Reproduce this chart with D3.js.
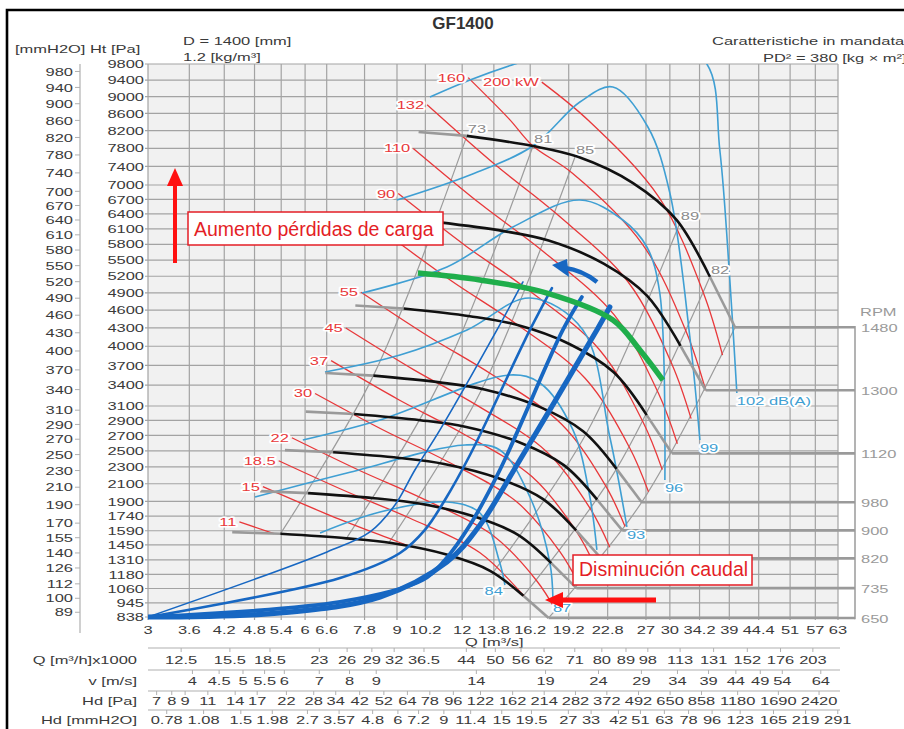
<!DOCTYPE html>
<html><head><meta charset="utf-8">
<script src="https://cdn.jsdelivr.net/npm/d3@7"></script>
<style>body{margin:0;background:#fff}svg{display:block}</style>
</head><body><svg id="c" width="904" height="729"></svg>
<script>
// ---- axis tick values ----
const qTicks = [3,3.6,4.2,4.8,5.4,6,6.6,7.8,9,10.2,12,13.8,16.2,19.2,22.8,27,30,34.2,39,44.4,51,57,63];
const paTicks = [838,945,1060,1180,1310,1450,1590,1740,1900,2100,2300,2500,2700,2900,3100,3400,3700,4000,4300,4600,4900,5200,5500,5800,6100,6400,6700,7000,7400,7800,8200,8600,9000,9400,9800];
const mmTicks = [89,100,112,126,140,155,170,190,210,230,250,270,290,310,340,370,400,430,460,490,520,550,580,610,640,670,700,740,780,820,860,900,940,980];
const qHourTicks = [12.5,15.5,18.5,23,26,29,32,36.5,44,50,56,62,71,80,89,98,113,131,152,176,203];
const vTicks = [4,4.5,5,5.5,6,7,8,9,14,19,24,29,34,39,44,49,54,64];
const hdPaTicks = [7,8,9,11,14,17,22,28,34,42,52,64,78,96,122,162,214,282,372,492,650,858,1180,1690,2420];
const hdMmTicks = [0.78,1.08,1.5,1.98,2.7,3.57,4.8,6,7.2,9,11.4,15,19.5,27,33,42,51,63,78,96,123,165,219,291];

// ---- fan curves [Q m3/s, Ht Pa]; points 1..6 are the working (black) range ----
const rpmList = [1480,1300,1120,980,900,820,735,650];
const curve1480 = [[9.9,8170],[12.25,8080],[16.4,7850],[20.0,7610],[25.5,7040],[30.9,6280],[35.8,5190],[40.0,4310]];
const curve1300 = [[8.70,6304],[10.76,6235],[14.41,6057],[17.57,5872],[22.40,5432],[27.14,4846],[31.45,4005],[35.14,3326]];
const curve1120 = [[7.49,4679],[9.27,4627],[12.41,4496],[15.14,4358],[19.30,4032],[23.39,3597],[27.09,2972],[30.27,2468]];
const curve980  = [[6.56,3583],[8.11,3543],[10.86,3442],[13.24,3337],[16.89,3087],[20.46,2754],[23.71,2276],[26.49,1890]];
const curve900  = [[6.02,3021],[7.45,2988],[9.97,2903],[12.16,2814],[15.51,2603],[18.79,2322],[21.77,1919],[24.32,1594]];
const curve820  = [[5.49,2508],[6.79,2481],[9.09,2410],[11.08,2336],[14.13,2161],[17.12,1928],[19.84,1593],[22.16,1323]];
const curve735  = [[4.92,2015],[6.08,1993],[8.14,1936],[9.93,1877],[12.66,1736],[15.35,1549],[17.78,1280],[19.86,1063]];
const curve650  = [[4.35,1576],[5.38,1559],[7.20,1514],[8.78,1468],[11.20,1358],[13.57,1211],[15.72,1001],[17.57,831]];

// ---- efficiency lines (%) ----
const effLabels = ["73","81","85","89","82",""];
const eff73 = [[5.38,1559],[8.11,3543],[12.25,8080]];
const eff81 = [[7.20,1514],[10.86,3442],[16.4,7850]];
const eff85 = [[8.67,1466],[13.07,3333],[19.73,7600]];
const eff89 = [[13.77,1200],[20.76,2727],[31.35,6219]];
const eff82 = [[15.72,1001],[23.71,2276],[35.8,5190]];
const effEnd = [[17.57,831],[26.49,1890],[40.0,4310]];

// ---- absorbed power lines (kW) ----
const powerLabels = ["11","15","18.5","22","30","37","45","55","75","90","110","132","160","200 kW"];
const p11  = [[4.49,1680],[5.23,1561]];
const p15  = [[4.98,2066],[6.71,1747],[8.87,1496],[9.55,1433]];
const p18  = [[5.34,2376],[7.20,2011],[9.51,1721],[12.96,1377],[15.77,997]];
const p22  = [[5.66,2668],[7.63,2257],[10.08,1931],[13.73,1545],[16.67,1125],[18.14,887]];
const p30  = [[6.27,3279],[8.45,2774],[11.17,2375],[15.22,1901],[18.48,1384],[20.12,1090]];
const p37  = [[6.73,3772],[9.07,3189],[11.98,2731],[16.32,2185],[19.82,1591],[21.57,1254]];
const p45  = [[7.18,4297],[9.68,3634],[12.79,3112],[17.42,2489],[21.16,1813],[23.02,1428]];
const p55  = [[7.68,4911],[10.35,4157],[13.68,3559],[18.63,2845],[22.62,2072],[24.62,1633]];
const p75  = [[8.51,6038],[11.47,5109],[15.17,4376],[20.66,3499],[25.08,2548],[27.30,2008]];
const p90  = [[9.05,6819],[12.19,5768],[16.12,4941],[21.95,3952],[26.65,2877],[29.01,2267]];
const p110 = [[9.67,7797],[13.04,6596],[17.23,5648],[23.47,4517],[28.50,3288],[31.01,2591]];
const p132 = [[10.28,8805],[13.85,7447],[18.31,6378],[24.94,5100],[30.29,3714],[32.95,2925]];
const p160 = [[12.32,9462],[14.77,8467],[16.4,7850],[19.52,7252],[26.59,5800],[32.29,4223],[35.14,3326]];
const p200 = [[17.05,9351],[21.03,8416],[28.65,6729],[34.79,4900],[37.85,3860]];

// ---- sound level lines dB(A) ----
const noiseLabels = ["84","87","","93","96","99","102 dB(A)"];
const n84  = [[6.41,1568],[8.35,1785],[11.22,1894],[12.98,1774],[14.17,1281],[14.49,1089]];
const n87  = [[4.81,1949],[7.22,2227],[12.15,2574],[14.17,2510],[16.18,1949],[17.67,1281],[17.91,967]];
const n90  = [[5.94,2639],[8.35,2906],[14.81,3553],[16.91,3433],[19.56,2771],[21.08,1949],[21.74,1402]];
const n93  = [[6.55,3598],[9.12,3861],[12.26,4265],[16.18,4810],[20.44,4265],[23.02,2678],[24.82,1630]];
const n96  = [[7.71,4898],[11.22,5370],[15.01,6139],[20.17,6686],[24.38,6278],[27.11,5748],[28.70,4898],[29.35,2144]];
const n99  = [[9.00,6686],[12.42,7214],[16.39,7852],[20.17,8870],[23.33,9232],[27.23,8284],[30.0,6832],[32.77,4149],[34.25,2639]];
const n102 = [[10.41,8990],[12.42,9403],[15.14,9800],[22.03,10411],[28.70,10541],[35.32,9800],[37.40,7762],[39.09,5132],[40.32,3286]];

// ---- system curves ----
const sys1 = [[3,838],[6.61,1383],[7.99,1578],[8.92,1861],[9.74,2263],[10.88,2771],[13.99,4265],[15.69,5096]];
const sys2 = [[3,838],[7.00,1149],[9.12,1373],[10.18,1598],[11.12,1916],[12.42,2447],[16.18,4265],[17.83,4987]];
const sys3 = [[3,838],[7.00,952],[10.09,1132],[11.12,1308],[12.42,1648],[14.17,2263],[18.71,4265],[20.35,4828]];
const sys4 = [[3,838],[5.37,868],[8.35,991],[11.22,1290],[12.98,1648],[15.48,2385],[21.74,4265],[23.02,4653]];

// ---- operating line ----
const greenLine = [[9.87,5259],[12.98,5132],[17.44,4898],[23.33,4432],[26.28,3940],[29.09,3477]];

// ===================== drawing =====================
const L = 148, R = 838, T = 64, B = 617;
const svg = d3.select('#c').style('font-family', "'Liberation Sans', Arial, Helvetica, sans-serif");

const x = d3.scaleLog().domain([3, 63]).range([L, R]);
const y = d3.scalePow().exponent(0.5).domain([838, 9800]).range([B, T]);

const vOutlet = 1.096;              // outlet velocity per m3/s
const qFromV = v => v / vOutlet;
const qFromHd = hd => qFromV(Math.sqrt(hd / 0.6));

// wide lettering used by the chart's labels
function wt(g, xx, yy, s, o = {}) {
  const t = g.append('text')
    .attr('transform', `translate(${xx},${yy}) scale(${o.sx || 1.42},1)`)
    .attr('text-anchor', o.anchor || 'start')
    .attr('font-size', o.size || 11.6)
    .attr('fill', o.fill || '#3a3a3a')
    .text(s);
  if (o.halo) t.attr('stroke', '#fff').attr('stroke-width', 3.2).attr('paint-order', 'stroke').attr('stroke-linejoin', 'round');
  return t;
}

svg.append('defs').append('clipPath').attr('id', 'plotClip')
  .append('rect').attr('x', L).attr('y', T).attr('width', R - L).attr('height', B - T + 4);

// frame
svg.append('path').attr('d', 'M7,760 V10 H920').attr('fill', 'none').attr('stroke', '#000').attr('stroke-width', 2.6);

// plot background
svg.append('rect').attr('x', L).attr('y', T).attr('width', R - L).attr('height', B - T).attr('fill', '#f1f1f1');

// grid
const grid = svg.append('g').attr('stroke', '#a3a3a3').attr('stroke-width', 1.2);
qTicks.forEach(q => grid.append('line').attr('x1', x(q)).attr('x2', x(q)).attr('y1', T).attr('y2', B + 3));
paTicks.forEach(p => grid.append('line').attr('x1', L - 3).attr('x2', R).attr('y1', y(p)).attr('y2', y(p)));

const txt = svg.append('g');
paTicks.forEach(p => wt(txt, L - 4, y(p) + 4.2, p, {anchor: 'end'}));

// mmH2O axis
const mmX = 80;
svg.append('line').attr('x1', mmX).attr('x2', mmX).attr('y1', T).attr('y2', 633).attr('stroke', '#b0b0b0').attr('stroke-width', 1.2);
mmTicks.forEach(m => {
  const yy = y(m * 9.81);
  svg.append('line').attr('x1', mmX - 5).attr('x2', mmX).attr('y1', yy).attr('y2', yy).attr('stroke', '#b0b0b0');
  wt(txt, mmX - 7, yy + 4.2, m, {anchor: 'end'});
});

// Q axis labels
qTicks.forEach(q => wt(txt, x(q), 634, q, {anchor: 'middle'}));
wt(txt, 465, 646, 'Q [m³/s]');

// secondary scales under the plot
const rows = [
  {label: 'Q [m³/h]x1000', ly: 648, dy: 16, ticks: qHourTicks, toQ: v => v / 3.6},
  {label: 'v [m/s]', ly: 670, dy: 14.5, ticks: vTicks, toQ: qFromV},
  {label: 'Hd [Pa]', ly: 691, dy: 14, ticks: hdPaTicks, toQ: qFromHd},
  {label: 'Hd [mmH2O]', ly: 710, dy: 14, ticks: hdMmTicks, toQ: v => qFromHd(v * 9.81)}
];
rows.forEach(r => {
  svg.append('line').attr('x1', L).attr('x2', 840).attr('y1', r.ly).attr('y2', r.ly).attr('stroke', '#b0b0b0').attr('stroke-width', 1.2);
  r.ticks.forEach(t => {
    const xx = x(r.toQ(t));
    svg.append('line').attr('x1', xx).attr('x2', xx).attr('y1', r.ly).attr('y2', r.ly + 4).attr('stroke', '#b0b0b0');
    wt(txt, xx, r.ly + r.dy, t, {anchor: 'middle'});
  });
  wt(txt, 137, r.ly + r.dy, r.label, {anchor: 'end'});
});

// titles
svg.append('text').attr('x', 463).attr('y', 29).attr('text-anchor', 'middle').attr('font-weight', 'bold').attr('font-size', 17).attr('fill', '#333').text('GF1400');
wt(svg, 183, 45, 'D = 1400 [mm]');
wt(svg, 183, 61, '1.2 [kg/m³]');
wt(svg, 15, 53, '[mmH2O] Ht [Pa]');
wt(svg, 712, 45, 'Caratteristiche in mandata');
wt(svg, 763, 62, 'PD² = 380 [kg × m²]');

const line = d3.line().x(d => x(d[0])).y(d => y(d[1])).curve(d3.curveCatmullRom.alpha(0.5));
const plot = svg.append('g').attr('clip-path', 'url(#plotClip)');

// efficiency lines
const effLines = [eff73, eff81, eff85, eff89, eff82, effEnd];
effLines.forEach(e => plot.append('path').attr('d', line(e)).attr('fill', 'none').attr('stroke', '#9c9c9c').attr('stroke-width', 1.2));

// power lines
const powerLines = [p11, p15, p18, p22, p30, p37, p45, p55, p75, p90, p110, p132, p160, p200];
powerLines.forEach(p => plot.append('path').attr('d', line(p)).attr('fill', 'none').attr('stroke', '#e8383a').attr('stroke-width', 1.3));

// sound lines
const noiseLines = [n84, n87, n90, n93, n96, n99, n102];
noiseLines.forEach(n => plot.append('path').attr('d', line(n)).attr('fill', 'none').attr('stroke', '#3f9fd3').attr('stroke-width', 1.6));

// fan curves, RPM steps and labels
const fanCurves = [curve1480, curve1300, curve1120, curve980, curve900, curve820, curve735, curve650];
const bracketX = 855;
fanCurves.forEach((c, i) => {
  plot.append('path').attr('d', line(c.slice(0, 2))).attr('fill', 'none').attr('stroke', '#9a9a9a').attr('stroke-width', 2.6);
  plot.append('path').attr('d', line(c.slice(6))).attr('fill', 'none').attr('stroke', '#9a9a9a').attr('stroke-width', 2.6);
  plot.append('path').attr('d', line(c.slice(1, 7))).attr('fill', 'none').attr('stroke', '#111').attr('stroke-width', 2.6);
  const end = c[c.length - 1];
  svg.append('line').attr('x1', x(end[0])).attr('x2', bracketX).attr('y1', y(end[1])).attr('y2', y(end[1]))
    .attr('stroke', '#9a9a9a').attr('stroke-width', 2.6);
  wt(svg, 861, y(end[1]) + 5, rpmList[i], {fill: '#9a9a9a'});
});
svg.append('line').attr('x1', bracketX).attr('x2', bracketX)
  .attr('y1', y(curve1480[7][1]) - 1.3).attr('y2', y(curve650[7][1]) + 1.3).attr('stroke', '#9a9a9a').attr('stroke-width', 1.5);
wt(svg, 860, 316, 'RPM', {fill: '#9a9a9a'});

// system curves
const sysLines = [sys1, sys2, sys3, sys4];
const sysW = [1.6, 2.6, 3.8, 5.2];
sysLines.forEach((s, i) => plot.append('path').attr('d', line(s)).attr('fill', 'none').attr('stroke', '#1767c2').attr('stroke-width', sysW[i]).attr('stroke-linecap', 'round'));

// operating line
plot.append('path').attr('d', line(greenLine)).attr('fill', 'none').attr('stroke', '#1fae4b').attr('stroke-width', 5.5);

// line labels
const lab = svg.append('g');
powerLines.forEach((p, i) => { if (i !== 8) wt(lab, x(p[0][0]) - 3, y(p[0][1]) + 4, powerLabels[i], {anchor: 'end', fill: '#e8383a', halo: true}); });
effLines.forEach((e, i) => { const t = e[e.length - 1]; if (effLabels[i]) wt(lab, x(t[0]) + 1, y(t[1]) - 3, effLabels[i], {fill: '#8c8c8c', halo: true}); });
noiseLines.forEach((n, i) => {
  const t = n[n.length - 1];
  if (!noiseLabels[i]) return;
  if (i === 0) wt(lab, x(t[0]) - 2, y(t[1]) + 10, noiseLabels[i], {anchor: 'end', fill: '#3f9fd3', halo: true});
  else wt(lab, x(t[0]), y(t[1]) + 12, noiseLabels[i], {fill: '#3f9fd3', halo: true});
});

// annotation arrows
const red = '#ff1010';
svg.append('line').attr('x1', 175).attr('x2', 175).attr('y1', 263).attr('y2', 184).attr('stroke', red).attr('stroke-width', 4);
svg.append('path').attr('d', 'M167,186 L183,186 L175,168 Z').attr('fill', red);
svg.append('line').attr('x1', 656).attr('x2', 562).attr('y1', 600).attr('y2', 600).attr('stroke', red).attr('stroke-width', 5);
svg.append('path').attr('d', 'M563,592 L563,608 L545,600 Z').attr('fill', red);
svg.append('path').attr('d', 'M597,282 Q582,270 565,268').attr('fill', 'none').attr('stroke', '#1767c2').attr('stroke-width', 4.5);
svg.append('path').attr('d', 'M567,259 L569,277 L552,265 Z').attr('fill', '#1767c2');

// text boxes
function box(x0, y0, w, h, s) {
  svg.append('rect').attr('x', x0).attr('y', y0).attr('width', w).attr('height', h).attr('fill', '#fff').attr('stroke', '#e41e26').attr('stroke-width', 1.5);
  svg.append('text').attr('x', x0 + 6).attr('y', y0 + h - 9).attr('font-size', 19.5).attr('fill', '#e41e26').text(s);
}
box(188, 212, 255, 33, 'Aumento pérdidas de carga');
box(573, 555, 179, 30, 'Disminución caudal');
</script></body></html>
